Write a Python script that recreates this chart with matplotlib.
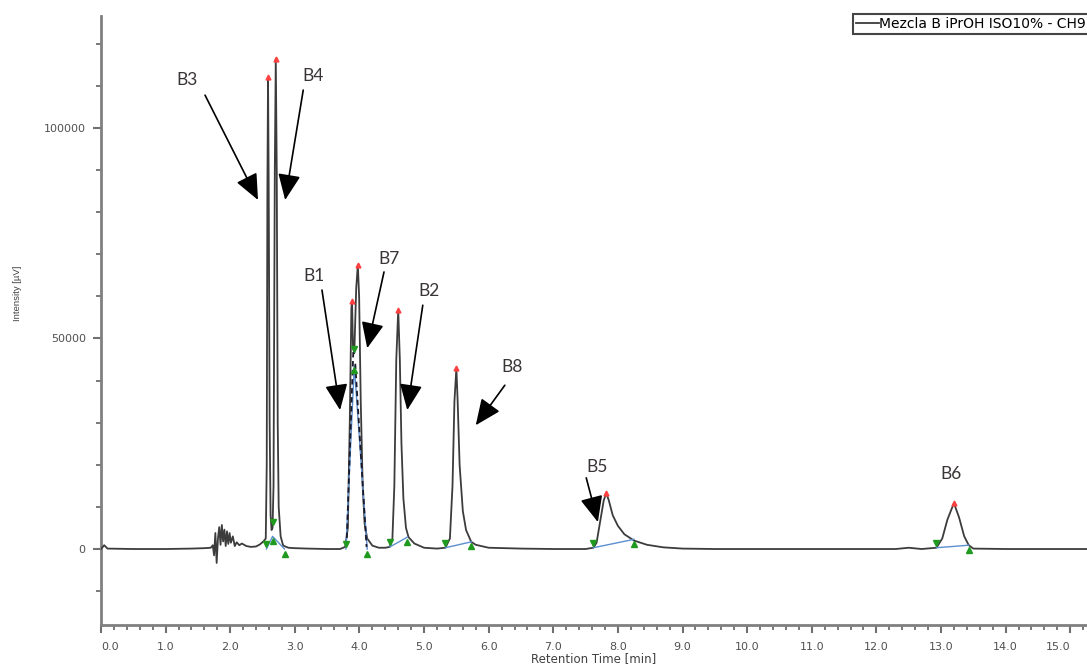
import matplotlib
matplotlib.use('Agg')
import matplotlib.pyplot as plt
from matplotlib.ticker import MultipleLocator, FixedLocator

# trace: retention time [min], intensity [uV]
trace_time = [0.0, 0.05, 0.1, 0.5, 1.0, 1.4, 1.6, 1.7, 1.73, 1.75, 1.77, 1.79, 1.81, 1.83,
              1.85, 1.87, 1.89, 1.91, 1.93, 1.95, 1.97, 1.99, 2.01, 2.04, 2.07, 2.10, 2.14,
              2.18, 2.25, 2.32, 2.40, 2.46, 2.52, 2.55,
              2.565, 2.575, 2.585, 2.595, 2.61, 2.625, 2.64, 2.655,
              2.67, 2.69, 2.705, 2.72, 2.735, 2.75, 2.78, 2.82, 2.9, 3.0,
              3.2, 3.5, 3.7, 3.78, 3.82, 3.85, 3.875, 3.885, 3.9, 3.92, 3.95, 3.975,
              3.995, 4.02, 4.05, 4.08, 4.12, 4.2, 4.3, 4.4,
              4.47, 4.51, 4.54, 4.57, 4.60, 4.625, 4.65, 4.68, 4.72, 4.76, 4.85, 5.0, 5.2,
              5.33, 5.4, 5.44, 5.47, 5.50, 5.52, 5.55, 5.6, 5.65, 5.73, 5.8, 6.0, 6.5, 7.0,
              7.5, 7.62, 7.67, 7.72, 7.78, 7.82, 7.86, 7.92, 8.0, 8.1, 8.25, 8.45, 8.7, 9.0,
              9.5, 11.0, 12.3, 12.5, 12.7, 12.93, 13.02, 13.1, 13.2, 13.28, 13.36, 13.43,
              13.5, 14.0, 15.3]
trace_uv = [0, 900, 100, 0, 0, 100, 200, 300, 900, -1500, 3800, -3300, 2500, 5200,
            1000, 5700, 1800, 4600, 700, 4200, 1200, 3800, 1500, 3000, 700, 1600, 900,
            1300, 700, 500, 600, 1100, 1900, 2500,
            20000, 85000, 112000, 88000, 30000, 8000, 4500, 5000,
            15000, 90000, 116500, 90000, 30000, 10000, 3000, 800, 300, 200,
            100, 0, 0, 500, 5000, 30000, 57000, 59000, 48000, 46500, 62000, 67500,
            60000, 35000, 15000, 6000, 2500, 800, 300, 300,
            500, 2500, 15000, 45000, 56800, 45000, 25000, 12000, 5000, 2800, 1300, 300, 100,
            300, 2500, 15000, 35000, 43000, 35000, 20000, 9000, 4500, 1700, 1000, 300, 100, 0,
            0, 300, 1500, 6000, 11500, 13300, 11500, 8000, 5500, 3500, 2000, 1000, 400, 100,
            0, 0, 0, 300, 0, 300, 2500, 7000, 10900, 7500, 3000, 900,
            100, 0, 0]

# peak apexes (red) and integration start/end points (green)
apex_time = [2.585, 2.705, 3.885, 3.975, 4.60, 5.50, 7.82, 13.2]
apex_uv = [112000, 116500, 59000, 67500, 56800, 43000, 13300, 10900]
start_time = [2.56, 2.655, 3.79, 3.92, 4.47, 5.33, 7.62, 12.93]
start_uv = [0, 5200, 0, 46500, 500, 300, 300, 300]
end_time = [2.655, 2.84, 3.92, 4.12, 4.74, 5.73, 8.25, 13.43]
end_uv = [3000, 0, 43500, 0, 2800, 1700, 2300, 900]

# baselines drawn by the integrator
base_time = [[2.56, 2.655, 2.84], [3.79, 3.92, 4.12], [4.47, 4.74], [5.33, 5.73],
             [7.62, 8.25], [12.93, 13.43]]
base_uv = [[0, 3000, 0], [0, 43500, 0], [500, 2800], [300, 1700], [300, 2300], [300, 900]]

# peak names and where they sit: text position, arrow tail, arrow tip (min, uV)
peak_names = ['B3', 'B4', 'B1', 'B7', 'B2', 'B8', 'B5', 'B6']
label_pos = [(1.33, 111500), (3.28, 112300), (3.30, 64800), (4.46, 68800),
             (5.08, 61200), (6.36, 43200), (7.68, 19500), (13.16, 17800)]
arrow_tail = [(1.61, 107800), (3.13, 109000), (3.42, 61500), (4.38, 65800),
              (4.98, 57900), (6.25, 38900), (7.51, 16900), None]
arrow_tip = [(2.43, 82900), (2.85, 82900), (3.70, 33000), (4.12, 47700),
             (4.74, 33000), (5.80, 29400), (7.69, 6400), None]

legend_label = 'Mezcla B iPrOH ISO10% - CH9'

fig = plt.figure(figsize=(10.87, 6.67), dpi=100)
ax = fig.add_axes([101 / 1087, 42 / 667, 986 / 1087, 609 / 667])

ax.plot(trace_time, trace_uv, color='#3c3c3c', lw=1.3, label=legend_label, zorder=3)

for bt, bv in zip(base_time, base_uv):
    ax.plot(bt, bv, color='#5b8fd0', lw=1.0, zorder=4)
# dashed drop lines on the B1/B7 pair
ax.plot([3.80, 3.905], [500, 47000], color='#1a1a2a', lw=1.3, ls=(0, (3, 2)), zorder=5)
ax.plot([3.935, 4.11], [44000, 500], color='#1a1a2a', lw=1.3, ls=(0, (3, 2)), zorder=5)

ax.plot(apex_time, apex_uv, ls='none', marker='^', ms=3.5, color='#ff4040', zorder=6)
ax.plot(start_time, [v + 1100 for v in start_uv], ls='none', marker='v', ms=5,
        color='#1f9a1f', zorder=6)
ax.plot(end_time, [v - 1100 for v in end_uv], ls='none', marker='^', ms=5,
        color='#1f9a1f', zorder=6)

for name, pos, tail, tip in zip(peak_names, label_pos, arrow_tail, arrow_tip):
    ax.text(pos[0], pos[1], name, fontsize=12.5, family='Lato', color='#3a3535',
            ha='center', va='center', zorder=7)
    if tail is not None:
        ax.annotate('', xy=tip, xytext=tail,
                    arrowprops=dict(arrowstyle='-|>,head_length=0.8,head_width=0.35',
                                    mutation_scale=20, color='black', lw=1.2,
                                    shrinkA=0, shrinkB=0), zorder=7)

ax.set_xlim(0, 15.26)
ax.set_ylim(-18050, 126600)

for side in ['top', 'right']:
    ax.spines[side].set_visible(False)
for side in ['left', 'bottom']:
    ax.spines[side].set_color('#808080')
    ax.spines[side].set_linewidth(2)

ax.xaxis.set_major_locator(FixedLocator(range(0, 16)))
ax.xaxis.set_minor_locator(MultipleLocator(0.2))
ax.yaxis.set_major_locator(FixedLocator([0, 50000, 100000]))
ax.yaxis.set_minor_locator(MultipleLocator(10000))
ax.tick_params(which='major', length=6, width=1.5, color='#707070',
               labelsize=8, labelcolor='#505050')
ax.tick_params(which='minor', length=3.5, width=1.3, color='#707070')
ax.tick_params(axis='x', which='major', pad=6)
ax.tick_params(axis='y', which='major', pad=5)
ax.set_xticklabels(['%.1f' % t for t in range(0, 16)], family='DejaVu Sans')
ax.set_yticklabels(['0', '50000', '100000'], family='DejaVu Sans')
xt = ax.get_xticklabels()
xt[0].set_horizontalalignment('left')
xt[-1].set_horizontalalignment('right')

ax.set_xlabel('Retention Time [min]', fontsize=8.5, family='DejaVu Sans',
              color='#404040', labelpad=0)
ax.set_ylabel('Intensity [µV]', fontsize=6.8, family='Liberation Sans', color='#404040')
ax.yaxis.set_label_coords(-0.08, 0.545)

leg = ax.legend(loc='upper left', bbox_to_anchor=(0.7627, 1.0033),
                handlelength=1.7, handletextpad=0.0, borderpad=0.2, borderaxespad=0,
                fancybox=False, framealpha=1, edgecolor='#454545',
                prop={'family': 'DejaVu Sans', 'size': 10})
leg.get_frame().set_linewidth(1.5)

fig.savefig('out.png', dpi=100)
